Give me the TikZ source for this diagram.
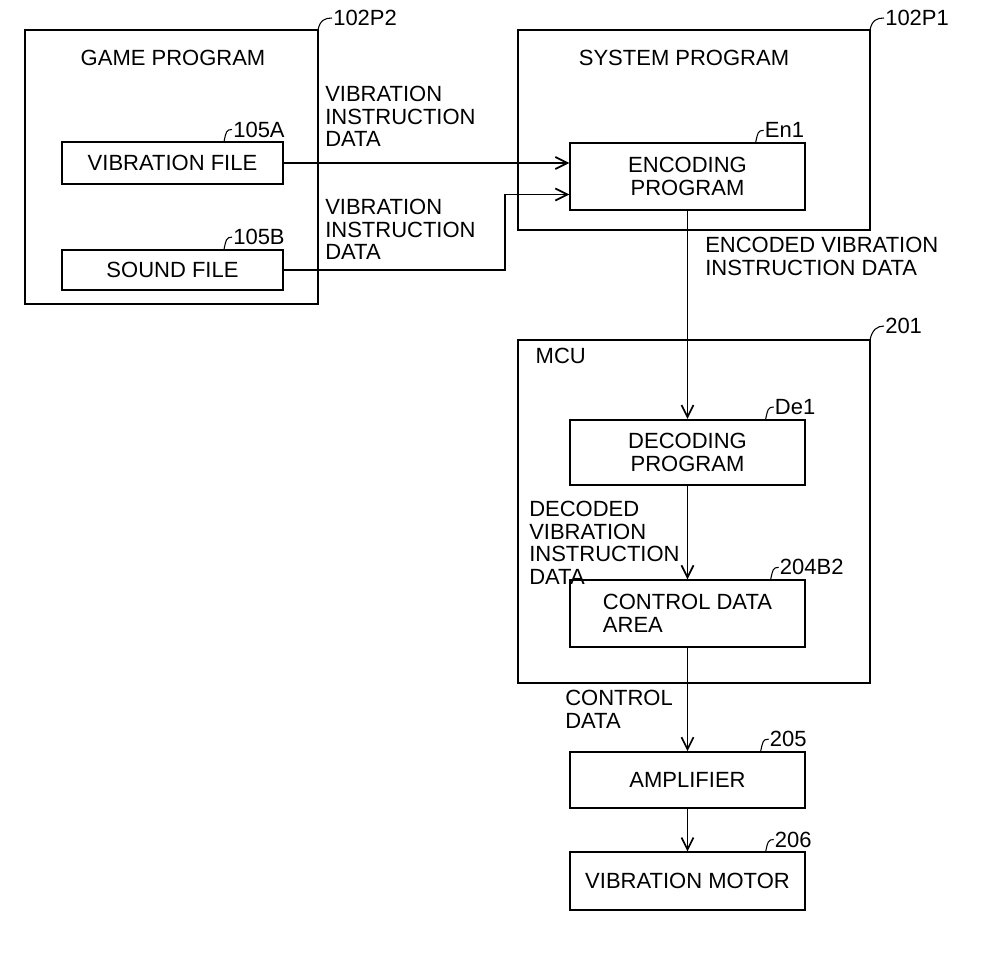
\documentclass[tikz,border=0pt]{standalone}
\usepackage{fontspec}
\setmainfont{Liberation Sans}
\usetikzlibrary{arrows.meta}
\tikzset{
  blk/.style={draw,line width=1.3pt,minimum width=176pt,inner sep=0pt,align=center},
  lbl/.style={anchor=north west,inner sep=0.75pt,align=left,font=\fontsize{16.5}{17}\selectfont},
  refn/.style={anchor=west,inner sep=0.75pt,font=\fontsize{16.5}{17}\selectfont},
  flow/.style={line width=1.3pt,-{Straight Barb[length=9pt,width=9pt]}}
}
\begin{document}
\begin{tikzpicture}[x=0.75pt,y=0.75pt,yscale=-1,xscale=1,font=\fontsize{16.5}{17}\selectfont]
        \useasboundingbox (0,0) rectangle (990,960);

        % outer boxes
        \draw [line width=1.3pt] (25,30) rectangle (318,304);
        \draw [line width=1.3pt] (518,30) rectangle (870,230);
        \draw [line width=1.3pt] (518,340) rectangle (870,683);
        \draw (173,58) node {GAME PROGRAM};
        \draw (684,58) node {SYSTEM PROGRAM};
        \draw (531,356) node [anchor=west] {MCU};

        % inner blocks
        \node [blk,minimum width=166pt,minimum height=31pt] (vib) at (172.5,163) {VIBRATION FILE};
        \node [blk,minimum width=166pt,minimum height=30pt] (snd) at (172.5,270) {SOUND FILE};
        \node [blk,minimum height=50pt] (enc) at (687.5,176.5) {ENCODING\\PROGRAM};
        \node [blk,minimum height=49pt] (dec) at (687.5,452.5) {DECODING\\PROGRAM};
        \node [blk,minimum height=50pt,align=left] (ctl) at (687.5,613.5) {CONTROL DATA\\AREA};
        \node [blk,minimum height=42pt] (amp) at (687.5,780) {AMPLIFIER};
        \node [blk,minimum height=43pt] (mot) at (687.5,881) {VIBRATION MOTOR};

        % leaders
        \draw [line width=0.8pt] (318,30) .. controls (320,20) and (325,18) .. (332,18);
        \draw (332,18) node [refn] {102P2};
        \draw [line width=0.8pt] (870,30) .. controls (872,20) and (877,18) .. (884,18);
        \draw (884,18) node [refn] {102P1};
        \draw [line width=0.8pt] (vib.north east) ++(-60,0) .. controls +(2,-9) and +(-6,0) .. +(8,-12) coordinate (la);
        \draw (la) node [refn] {105A};
        \draw [line width=0.8pt] (snd.north east) ++(-60,0) .. controls +(2,-9) and +(-6,0) .. +(8,-12) coordinate (lb);
        \draw (lb) node [refn] {105B};
        \draw [line width=0.8pt] (enc.north east) ++(-50,0) .. controls +(2,-9) and +(-6,0) .. +(8,-12) coordinate (le);
        \draw (le) node [refn] {En1};
        \draw [line width=0.8pt] (870,340) .. controls (872,330) and (877,326) .. (884,326) coordinate (lm);
        \draw (lm) node [refn] {201};
        \draw [line width=0.8pt] (dec.north east) ++(-40,0) .. controls +(2,-9) and +(-6,0) .. +(8,-12) coordinate (ld);
        \draw (ld) node [refn] {De1};
        \draw [line width=0.8pt] (ctl.north east) ++(-35,0) .. controls +(2,-9) and +(-6,0) .. +(8,-12) coordinate (lc);
        \draw (lc) node [refn] {204B2};
        \draw [line width=0.8pt] (amp.north east) ++(-45,0) .. controls +(2,-9) and +(-6,0) .. +(8,-12) coordinate (lp);
        \draw (lp) node [refn] {205};
        \draw [line width=0.8pt] (mot.north east) ++(-40,0) .. controls +(2,-9) and +(-6,0) .. +(8,-12) coordinate (lo);
        \draw (lo) node [refn] {206};

        % connectors
        \draw [flow] (vib.east) -- (vib.east -| enc.west);
        \coordinate (bend) at (505,270);
        \draw [flow] (snd.east) -- (bend) |- ([yshift=13.5pt]enc.west);
        \draw [flow] (enc.south) -- (dec.north);
        \draw [flow] (dec.south) -- (ctl.north);
        \draw [flow] (ctl.south) -- (amp.north);
        \draw [flow] (amp.south) -- (mot.north);

        % data labels
        \draw (324,85) node [lbl] {VIBRATION\\INSTRUCTION\\DATA};
        \draw (324,198) node [lbl] {VIBRATION\\INSTRUCTION\\DATA};
        \draw (704,236) node [lbl] {ENCODED VIBRATION\\INSTRUCTION DATA};
        \draw (528,500) node [lbl] {DECODED\\VIBRATION\\INSTRUCTION\\DATA};
        \draw (564,689) node [lbl] {CONTROL\\DATA};
\end{tikzpicture}
\end{document}
